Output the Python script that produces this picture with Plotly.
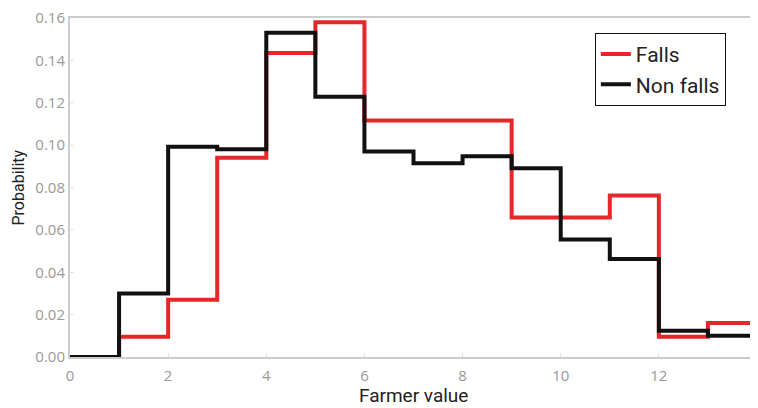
import plotly.graph_objects as go

bin_edges = list(range(0, 15))
falls = [0.0, 0.0095, 0.027, 0.094, 0.1435, 0.158, 0.1116, 0.1116, 0.1116,
         0.0658, 0.0658, 0.0762, 0.0095, 0.016]
non_falls = [0.0, 0.030, 0.0992, 0.098, 0.153, 0.1228, 0.0970, 0.0914, 0.0948,
             0.0891, 0.0554, 0.0463, 0.0124, 0.0100]
x_ticks = [0, 2, 4, 6, 8, 10, 12, 14]
y_ticks = [0.00, 0.02, 0.04, 0.06, 0.08, 0.10, 0.12, 0.14, 0.16]


def step_xy(edges, vals):
    xs = list(edges) + [edges[-1]]
    ys = list(vals) + [vals[-1], 0.0]
    return xs, ys


fig = go.Figure()
fx, fy = step_xy(bin_edges, falls)
nx, ny = step_xy(bin_edges, non_falls)
fig.add_trace(go.Scatter(x=fx, y=fy, mode="lines", name="Falls",
                         line=dict(color="#e8262a", width=4, shape="hv")))
fig.add_trace(go.Scatter(x=nx, y=ny, mode="lines", name="Non falls",
                         line=dict(color="#111111", width=4, shape="hv")))

axis_common = dict(showgrid=False, zeroline=False, showline=True,
                   linecolor="#cccccc", linewidth=2, mirror=True,
                   ticks="inside", tickcolor="#e4e4e4", ticklen=4,
                   automargin=False, ticklabeloverflow="allow",
                   tickfont=dict(family="Open Sans", size=15, color="#999999"))

fig.update_xaxes(range=[0, 14], tickvals=x_ticks, ticklabelstandoff=4,
                 **axis_common)
fig.update_yaxes(range=[0, 0.16], tickvals=y_ticks, tickformat=".2f",
                 **axis_common)

fig.add_annotation(text="Farmer value", xref="paper", yref="paper",
                   x=0.5, y=0, yanchor="middle", yshift=-38, showarrow=False,
                   font=dict(family="Roboto", size=19, color="#222222"))
fig.add_annotation(text="Probability", xref="paper", yref="paper",
                   x=0, y=0.5, xanchor="center", xshift=-52, textangle=-90,
                   showarrow=False,
                   font=dict(family="Roboto", size=16, color="#222222"))

fig.update_layout(
    width=750, height=400,
    margin=dict(l=62, r=1, t=10, b=51),
    plot_bgcolor="white", paper_bgcolor="white",
    showlegend=True,
    legend=dict(x=0.764, y=0.956, xanchor="left", yanchor="top",
                bgcolor="white", bordercolor="#111111", borderwidth=1,
                font=dict(family="Roboto", size=21, color="#222222"),
                itemwidth=30, tracegroupgap=0),
)

fig.write_html("out.html")
